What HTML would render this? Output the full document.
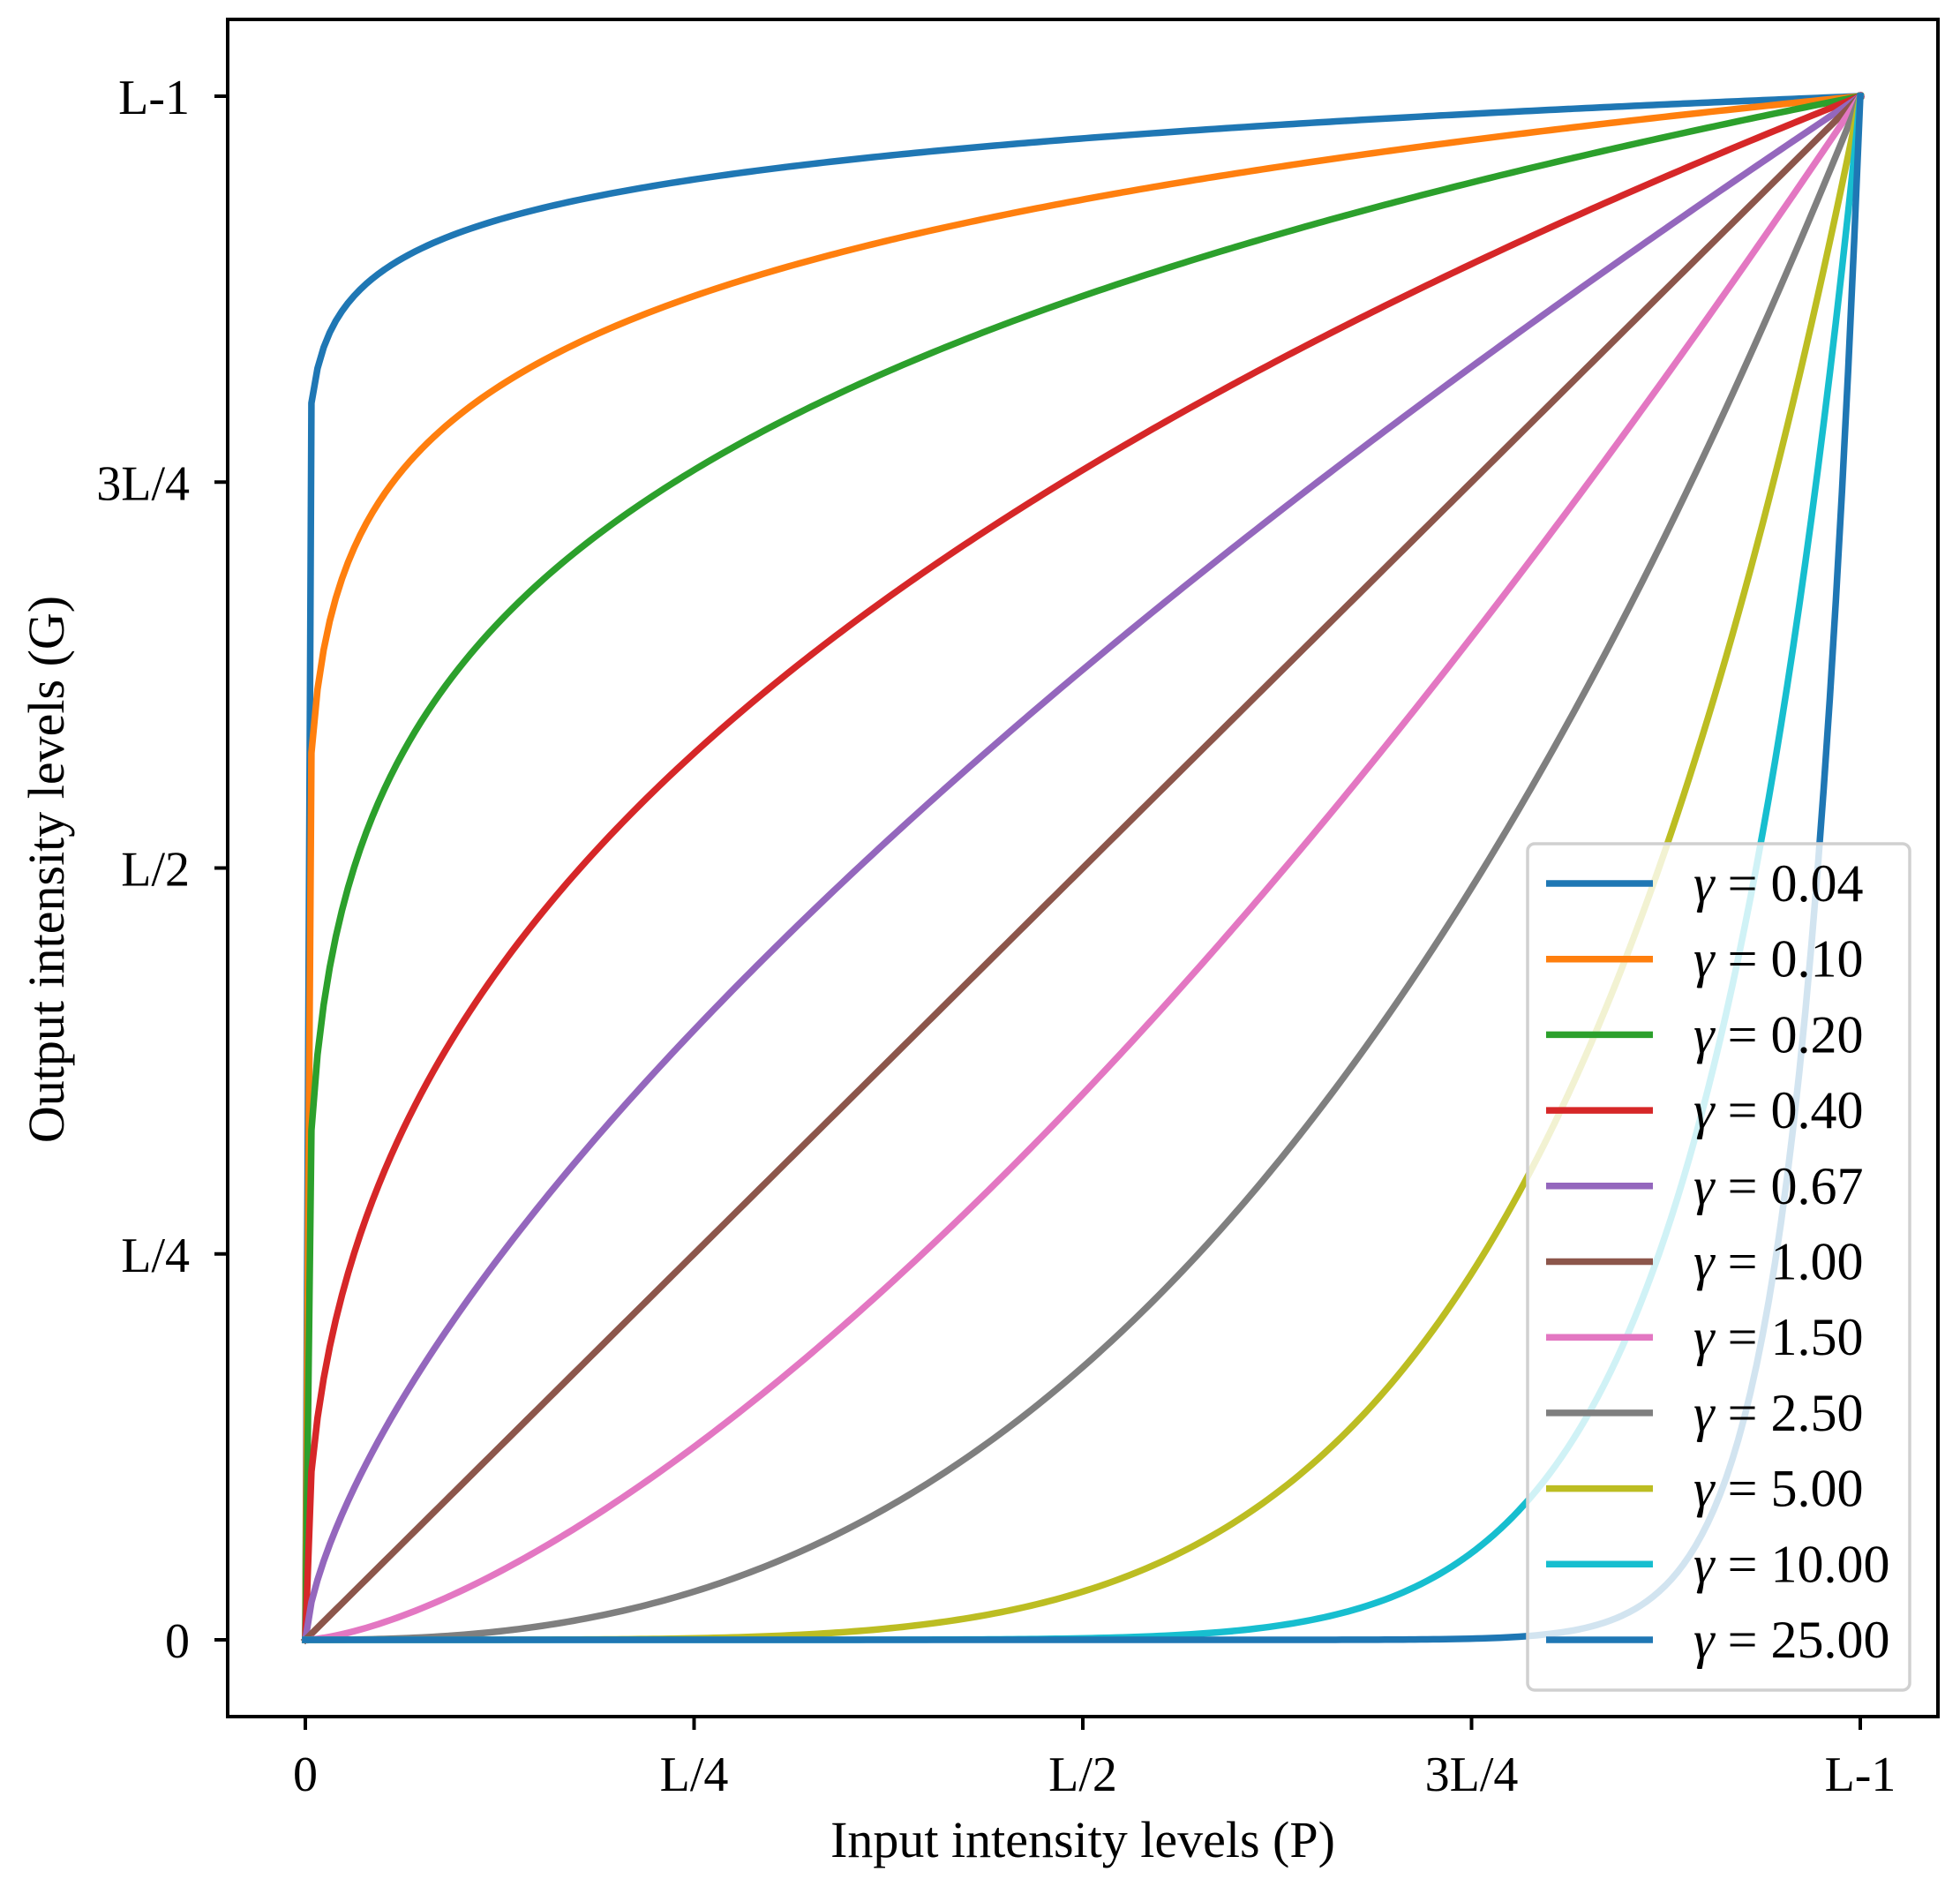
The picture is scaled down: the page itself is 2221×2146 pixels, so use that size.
<!DOCTYPE html>
<html><head><meta charset="utf-8"><style>
body{margin:0;background:#fff}
svg{display:block;font-family:"Liberation Serif",serif}
</style></head><body>
<svg id="chart" width="2221" height="2146" viewBox="0 0 2221 2146" xmlns="http://www.w3.org/2000/svg">
<rect x="0" y="0" width="2221" height="2146" fill="#fff"/>
<g id="curves"></g>
<g id="axes"></g>
<g id="legend"></g>
<text x="1227" y="2104" font-size="58" text-anchor="middle">Input intensity levels (P)</text>
<text transform="translate(72,985) rotate(-90)" font-size="58" text-anchor="middle">Output intensity levels (G)</text>
</svg>
<script>
const gammas = [0.04, 0.10, 0.20, 0.40, 0.67, 1.00, 1.50, 2.50, 5.00, 10.00, 25.00];
const legendLabels = ["0.04","0.10","0.20","0.40","0.67","1.00","1.50","2.50","5.00","10.00","25.00"];
const tickValues = [0, 0.25, 0.5, 0.75, 1];
const tickLabels = ["0","L/4","L/2","3L/4","L-1"];
const nSamples = 256;

const colors = ["#1f77b4","#ff7f0e","#2ca02c","#d62728","#9467bd","#8c564b","#e377c2","#7f7f7f","#bcbd22","#17becf"];
const NS = "http://www.w3.org/2000/svg";
const X0 = 346, X1 = 2108, Y0 = 1858, Y1 = 109;
const sx = v => X0 + v * (X1 - X0);
const sy = v => Y0 - v * (Y0 - Y1);
function mk(tag, attrs, parent){const e=document.createElementNS(NS,tag);for(const k in attrs)e.setAttribute(k,attrs[k]);parent.appendChild(e);return e;}

const curves = document.getElementById('curves');
gammas.forEach((g, i) => {
  let d = "";
  for (let k = 0; k < nSamples; k++) {
    const x = k / (nSamples - 1);
    const y = Math.pow(x, g);
    d += (k ? "L" : "M") + sx(x).toFixed(2) + " " + sy(y).toFixed(2);
  }
  const p = mk('path', {d: d, fill: "none", stroke: colors[i % 10], "stroke-width": 7.5, "stroke-linejoin": "round", "stroke-linecap": "square"}, curves);
  
  
});

const axes = document.getElementById('axes');
const frame = mk('rect', {x: 258, y: 22, width: 1938, height: 1923, fill: "none", stroke: "#000", "stroke-width": 4}, axes);


tickValues.forEach((v, i) => {
  const tx = mk('line', {x1: sx(v), x2: sx(v), y1: 1945, y2: 1960, stroke: "#000", "stroke-width": 4}, axes);
  
  
  const lx = mk('text', {x: sx(v), y: 2029, "font-size": 56, "text-anchor": "middle"}, axes);
  lx.textContent = tickLabels[i];
  
  
  const ty = mk('line', {x1: 243, x2: 258, y1: sy(v), y2: sy(v), stroke: "#000", "stroke-width": 4}, axes);
  
  
  const ly = mk('text', {x: 215, y: sy(v) + 20, "font-size": 56, "text-anchor": "end"}, axes);
  ly.textContent = tickLabels[i];
  
  
});

const legend = document.getElementById('legend');
const box = mk('rect', {x: 1731, y: 956, width: 433, height: 959, rx: 8, fill: "rgba(255,255,255,0.8)", stroke: "#d0d0d0", "stroke-width": 3.5}, legend);


gammas.forEach((g, i) => {
  const y = 1001 + i * 85.7;
  const ln = mk('line', {x1: 1752, x2: 1873, y1: y, y2: y, stroke: colors[i % 10], "stroke-width": 7.5}, legend);
  
  
  const t = mk('text', {x: 1919, y: y + 20, "font-size": 60}, legend);
  t.innerHTML = '<tspan font-style="italic">γ</tspan> = ' + legendLabels[i];
  
  
});
</script>
</body></html>
